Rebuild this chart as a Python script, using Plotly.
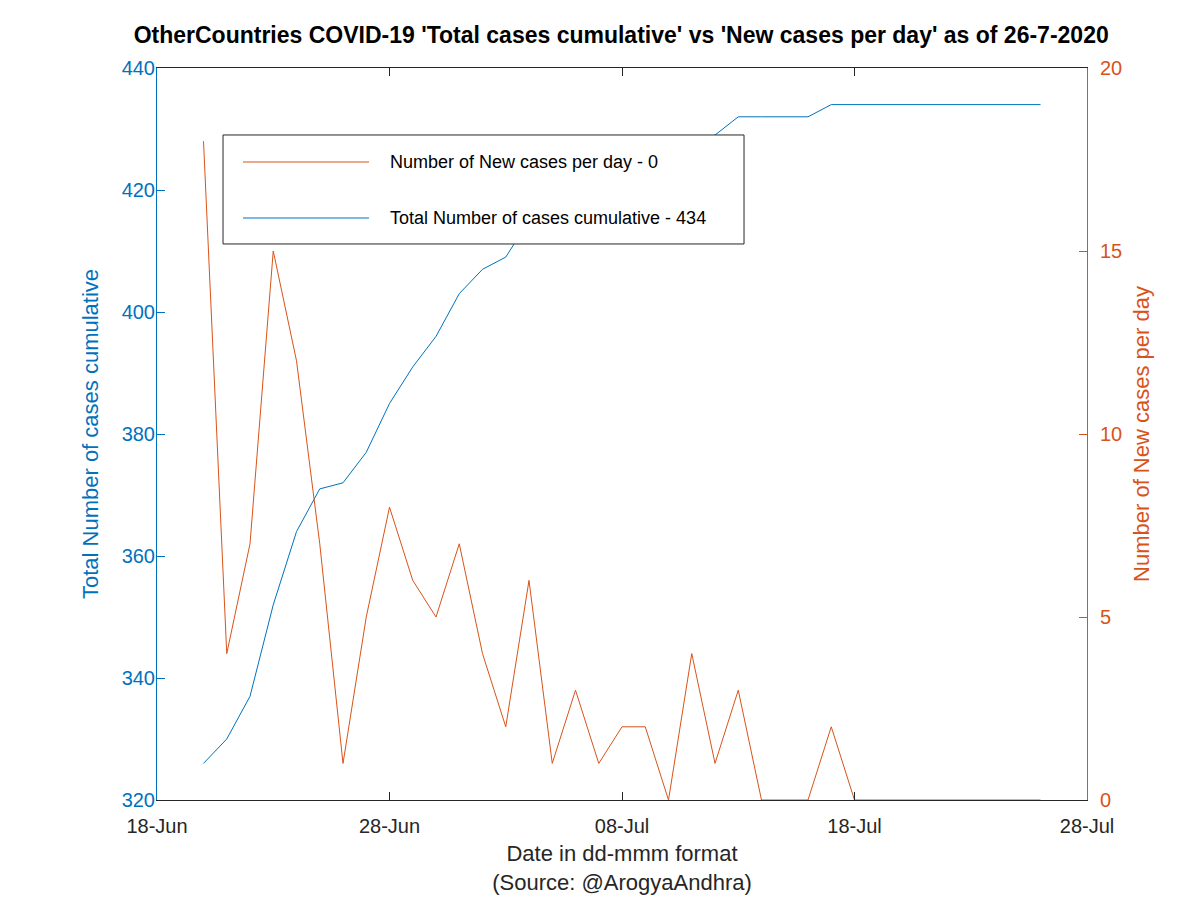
import pandas as pd
import plotly.graph_objects as go

dates = pd.date_range("2020-06-20", "2020-07-26", freq="D")
new_cases = [18, 4, 7, 15, 12, 7, 1, 5, 8, 6, 5, 7, 4, 2, 6, 1, 3, 1, 2, 2,
             0, 4, 1, 3, 0, 0, 0, 2, 0, 0, 0, 0, 0, 0, 0, 0, 0]
total_cases = [326, 330, 337, 352, 364, 371, 372, 377, 385, 391, 396, 403, 407,
               409, 415, 416, 419, 420, 422, 424, 424, 428, 429, 432, 432, 432,
               432, 434, 434, 434, 434, 434, 434, 434, 434, 434, 434]
x_ticks = pd.to_datetime(["2020-06-18", "2020-06-28", "2020-07-08", "2020-07-18", "2020-07-28"])
left_ticks = [320, 340, 360, 380, 400, 420, 440]
right_ticks = [0, 5, 10, 15, 20]
legend_names = [f"Number of New cases per day - {new_cases[-1]}",
                f"Total Number of cases cumulative - {total_cases[-1]}"]

BLUE = "#0072BD"
ORANGE = "#D95319"
DARK = "#262626"
FONT = "Liberation Sans, Arial, sans-serif"

fig = go.Figure()
fig.add_trace(go.Scatter(
    x=dates, y=total_cases, mode="lines", yaxis="y",
    line=dict(color=BLUE, width=1), name=legend_names[1], showlegend=False))
fig.add_trace(go.Scatter(
    x=dates, y=new_cases, mode="lines", yaxis="y2",
    line=dict(color=ORANGE, width=1), name=legend_names[0], showlegend=False))

# legend box drawn in paper coordinates (MATLAB-style legend)
lx0, lx1, ly0, ly1 = 0.0710, 0.6312, 0.7596, 0.9085
shapes = [
    dict(type="rect", xref="paper", yref="paper", x0=lx0, x1=lx1, y0=ly0, y1=ly1,
         fillcolor="white", line=dict(color=DARK, width=1), layer="above"),
    dict(type="line", xref="paper", yref="paper", x0=0.0925, x1=0.2280, y0=0.8716, y1=0.8716,
         line=dict(color=ORANGE, width=1), layer="above"),
    dict(type="line", xref="paper", yref="paper", x0=0.0925, x1=0.2280, y0=0.7951, y1=0.7951,
         line=dict(color=BLUE, width=1), layer="above"),
]
annotations = [
    dict(xref="paper", yref="paper", x=0.2484, y=yy, xanchor="left", yanchor="middle",
         text=t, showarrow=False, font=dict(size=18, color="black", family=FONT))
    for t, yy in zip(legend_names, [0.8716, 0.7951])
]

fig.update_layout(
    width=1200, height=900,
    margin=dict(l=149, r=121, t=60, b=108, autoexpand=False),
    paper_bgcolor="white", plot_bgcolor="white",
    font=dict(family=FONT, size=20, color=DARK),
    title=dict(text="<b>OtherCountries COVID-19 'Total cases cumulative' vs 'New cases per day' as of 26-7-2020</b>",
               x=0.511, xanchor="center", y=1 - 27 / 900, yanchor="middle",
               font=dict(size=23, color="black")),
    xaxis=dict(
        type="date", range=[x_ticks[0], x_ticks[-1]],
        tickvals=x_ticks, tickformat="%d-%b",
        ticks="inside", ticklen=8, tickcolor=DARK, ticklabelstandoff=8,
        showline=True, linecolor=DARK, linewidth=1, mirror="ticks",
        showgrid=False, zeroline=False, automargin=False,
        tickfont=dict(size=20, color=DARK),
        title=dict(text="Date in dd-mmm format<br>(Source: @ArogyaAndhra)",
                   font=dict(size=22, color=DARK), standoff=9),
    ),
    yaxis=dict(
        range=[320, 440], tickvals=left_ticks,
        ticks="inside", ticklen=8, tickcolor=BLUE, ticklabelstandoff=-3,
        showline=True, linecolor=BLUE, linewidth=1,
        showgrid=False, zeroline=False, automargin=False,
        tickfont=dict(size=20, color=BLUE),
        title=dict(text="Total Number of cases cumulative", font=dict(size=22, color=BLUE), standoff=16),
    ),
    yaxis2=dict(
        range=[0, 20], tickvals=right_ticks,
        overlaying="y", side="right", anchor="x",
        ticks="inside", ticklen=8, tickcolor=ORANGE, ticklabelstandoff=8,
        showline=True, linecolor=ORANGE, linewidth=1,
        showgrid=False, zeroline=False, automargin=False,
        tickfont=dict(size=20, color=ORANGE),
        title=dict(text="Number of New cases per day", font=dict(size=22, color=ORANGE), standoff=12),
    ),
    showlegend=False,
    shapes=shapes,
    annotations=annotations,
)

fig.write_html("out.html")
